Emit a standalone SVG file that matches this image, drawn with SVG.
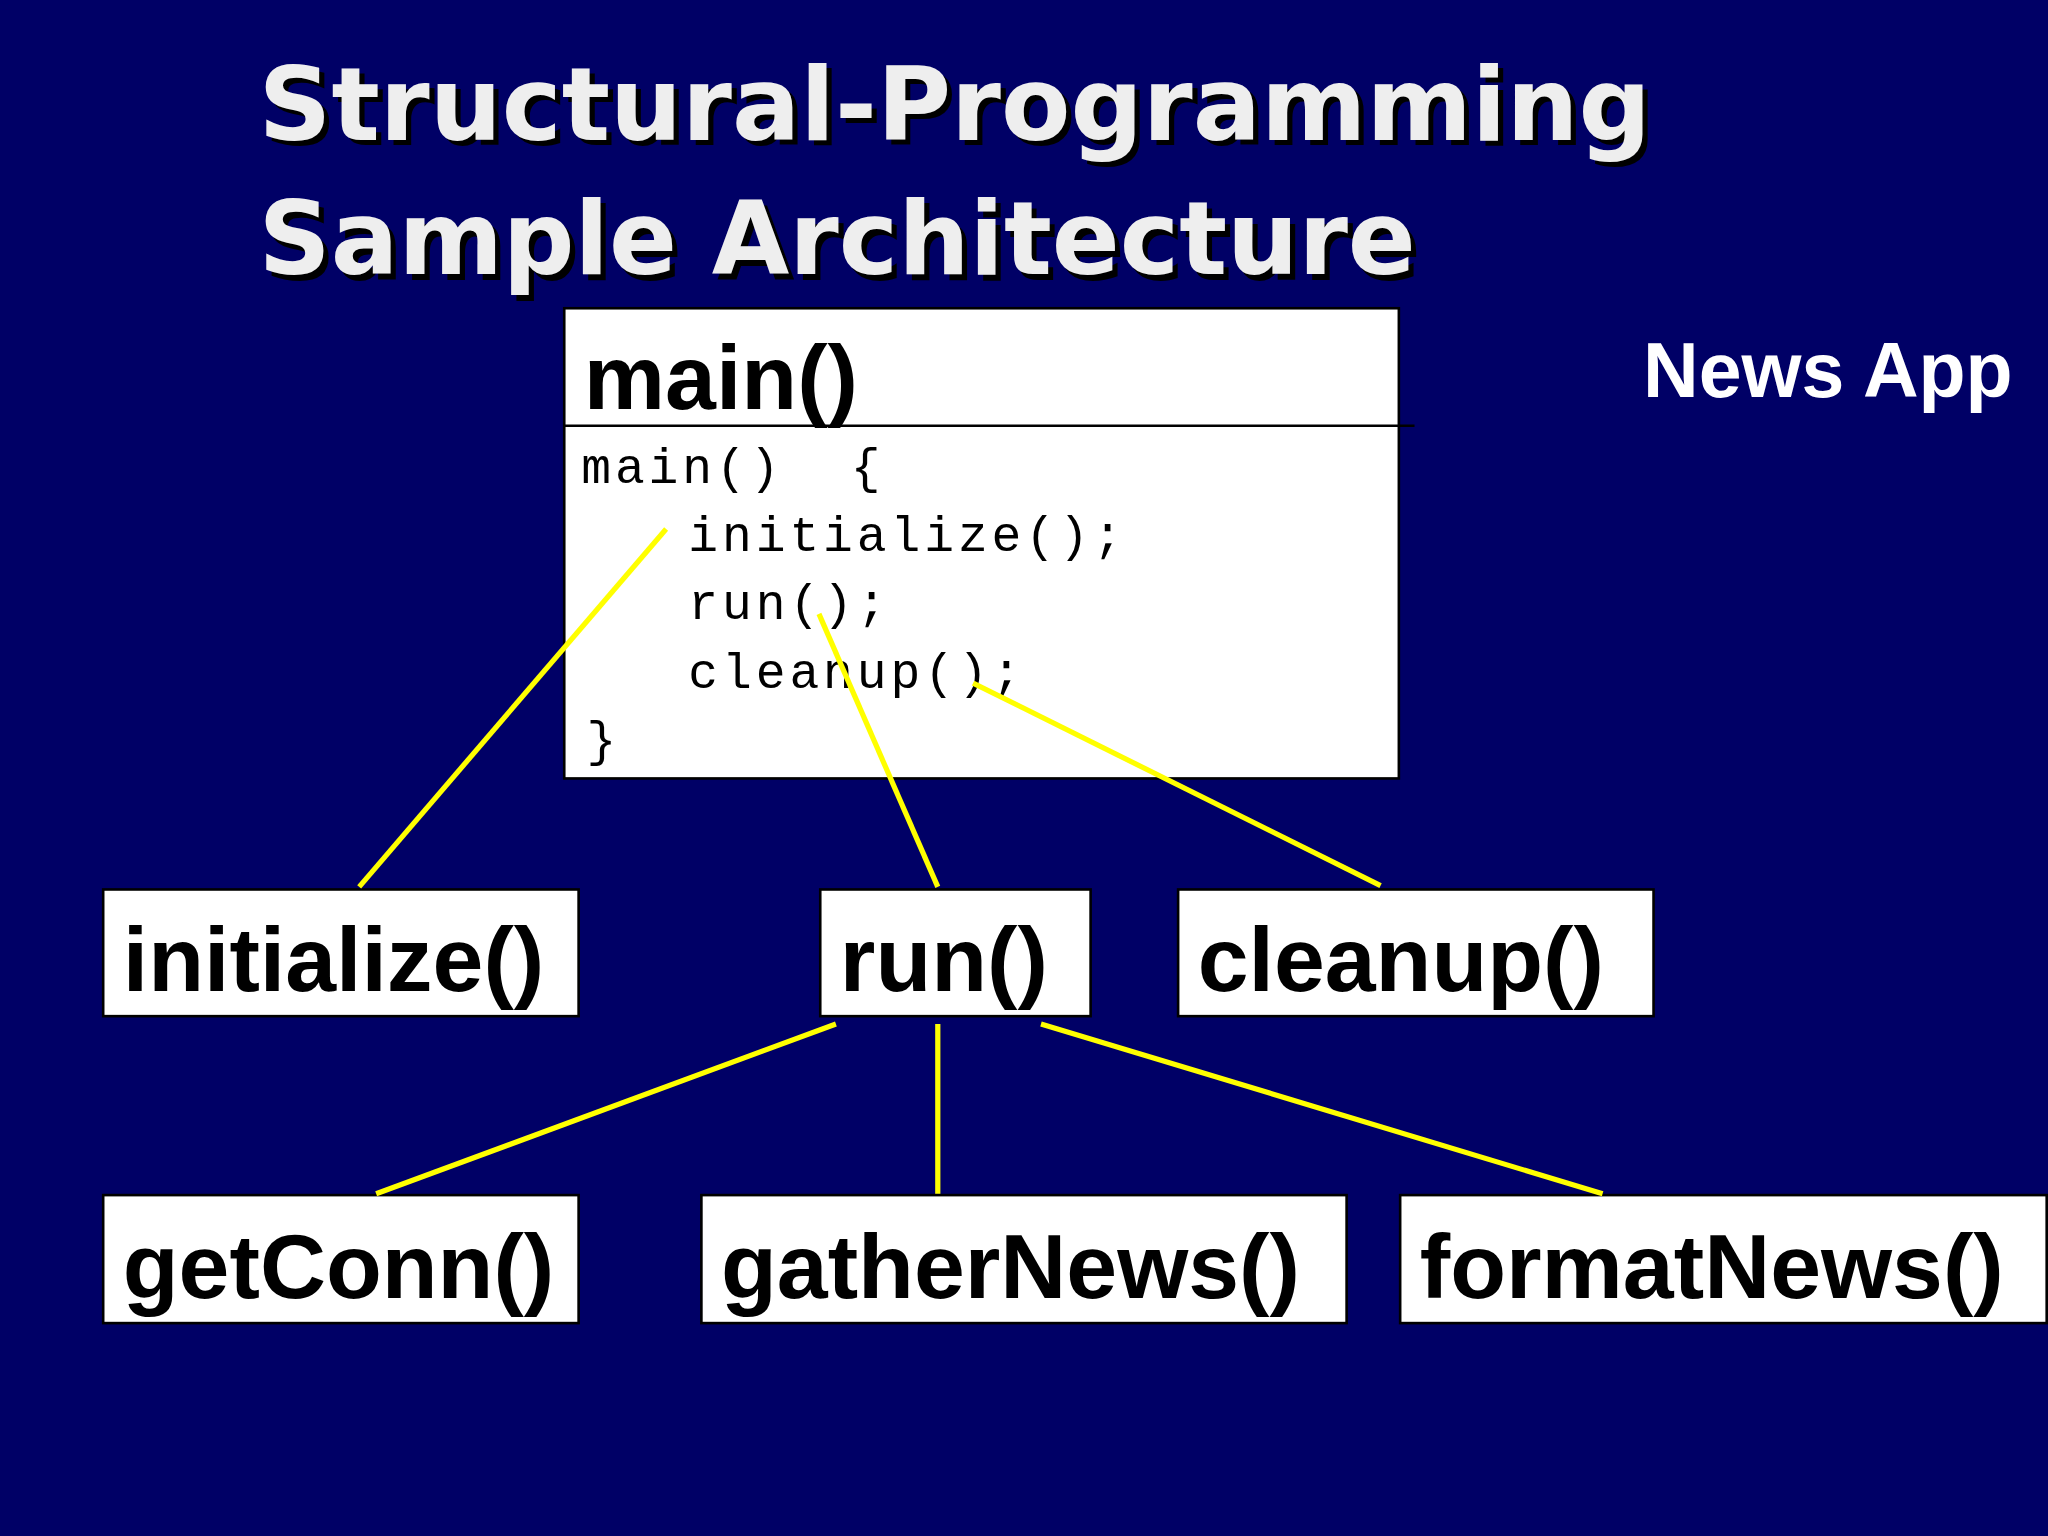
<svg xmlns="http://www.w3.org/2000/svg" width="2048" height="1536" viewBox="0 0 2048 1536">
<style>
.box{fill:#fff;stroke:#000;stroke-width:2}
.lbl{font-family:"Liberation Sans",Arial,sans-serif;font-weight:bold;font-size:70px;fill:#000}
.code{font-family:"Liberation Mono","Courier New",monospace;font-size:38px;fill:#000;letter-spacing:3px}
.title{font-family:"DejaVu Sans",Verdana,sans-serif;font-weight:bold;font-size:78px}
.con{stroke:#ffff00;stroke-width:4;fill:none}
</style>
<rect width="2048" height="1536" fill="#000066"/>
<g transform="scale(1.30612)">
<g id="title">
<text class="title" x="202" y="111" fill="#000" textLength="1066" lengthAdjust="spacingAndGlyphs">Structural-Programming</text>
<text class="title" x="198" y="107" fill="#eeeeee" textLength="1066" lengthAdjust="spacingAndGlyphs">Structural-Programming</text>
<text class="title" x="202" y="214" fill="#000" textLength="886" lengthAdjust="spacingAndGlyphs">Sample Architecture</text>
<text class="title" x="198" y="210" fill="#eeeeee" textLength="886" lengthAdjust="spacingAndGlyphs">Sample Architecture</text>
</g>
<text id="newsapp" x="1258" y="304" font-family="Liberation Sans,Arial,sans-serif" font-weight="bold" font-size="59" fill="#fff">News App</text>
<g id="main">
<rect class="box" x="432" y="236" width="639" height="360"/>
<line x1="432" y1="326" x2="1083" y2="326" stroke="#000" stroke-width="2"/>
<text class="lbl" x="447" y="313" font-size="66">main()</text>
<text class="code" xml:space="preserve" x="445" y="370">main()  {</text>
<text class="code" x="527" y="422">initialize();</text>
<text class="code" x="527" y="474">run();</text>
<text class="code" x="527" y="527">cleanup();</text>
<text class="code" x="449" y="579">}</text>
</g>
<g id="initialize"><rect class="box" x="79" y="681" width="364" height="97"/><text class="lbl" x="94" y="759">initialize()</text></g>
<g id="run"><rect class="box" x="628" y="681" width="207" height="97"/><text class="lbl" x="643" y="759">run()</text></g>
<g id="cleanup"><rect class="box" x="902" y="681" width="364" height="97"/><text class="lbl" x="917" y="759">cleanup()</text></g>
<g id="getConn"><rect class="box" x="79" y="915" width="364" height="98"/><text class="lbl" x="94" y="994">getConn()</text></g>
<g id="gatherNews"><rect class="box" x="537" y="915" width="494" height="98"/><text class="lbl" x="552" y="994">gatherNews()</text></g>
<g id="formatNews"><rect class="box" x="1072" y="915" width="495" height="98"/><text class="lbl" x="1087" y="994">formatNews()</text></g>
<g id="connectors">
<line class="con" x1="510" y1="405" x2="275" y2="679"/>
<line class="con" x1="627" y1="470" x2="718" y2="679"/>
<line class="con" x1="745" y1="523" x2="1057" y2="678"/>
<line class="con" x1="640" y1="784" x2="288" y2="914"/>
<line class="con" x1="718" y1="784" x2="718" y2="914"/>
<line class="con" x1="797" y1="784" x2="1227" y2="914"/>
</g>
</g>
</svg>
